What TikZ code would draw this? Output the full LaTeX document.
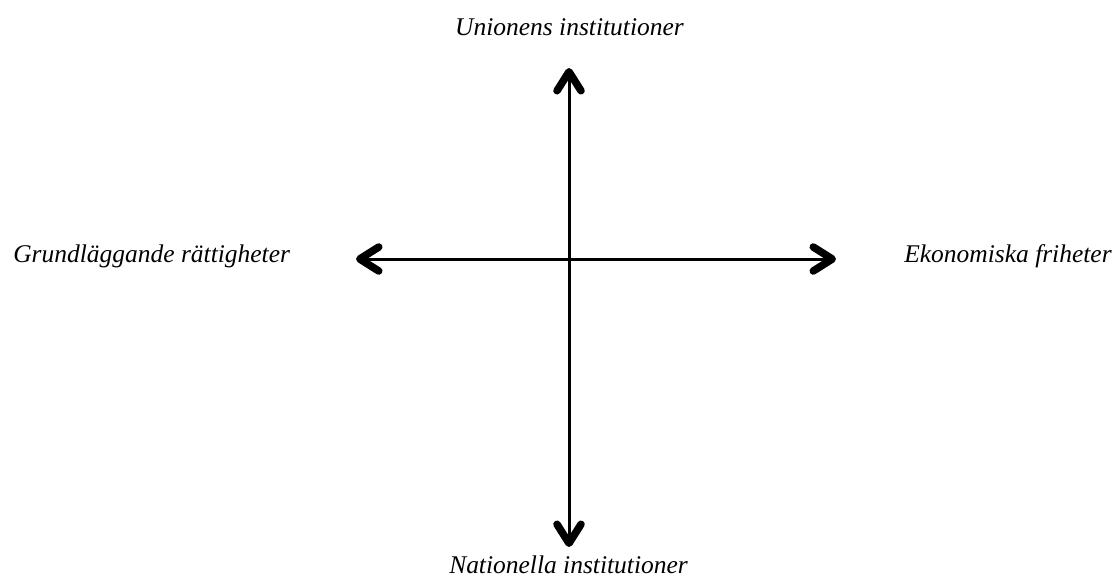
\documentclass[tikz,border=0pt]{standalone}
\usepackage{fontspec}
\setmainfont{Liberation Serif}
\usepackage{tikz}
\usetikzlibrary{arrows.meta}

\begin{document}
\begin{tikzpicture}[x=0.02cm, y=-0.02cm, >={Straight Barb[length=3.8mm, width=4.8mm, line width=1.5mm, round]},
        axis/.style={<->, line width=0.06cm, black},
        axisshadow/.style={<->, line width=0.06cm, black!25, opacity=0.6},
        label/.style={font=\fontsize{14.5}{17}\selectfont\itshape, inner sep=0pt}]

        \useasboundingbox (0,0) rectangle (1118,579);

        % ==========================================
        % ändpunkter för axlarna
        % ==========================================
        \coordinate (mitt) at (569,259);
        \coordinate (upp) at (569,68);
        \coordinate (ner) at (569,547);
        \coordinate (vanster) at (356,259);
        \coordinate (hoger) at (836,259);

        % svag skugga under pilarna
        \begin{scope}[shift={(1,3)}]
            \draw[axisshadow] (upp) -- (ner);
            \draw[axisshadow] (vanster) -- (hoger);
        \end{scope}

        % axlarna
        \draw[axis] (upp) -- (ner);
        \draw[axis] (vanster) -- (hoger);

        % ==========================================
        % texterna vid axlarnas ändar
        % ==========================================
        \node[label, anchor=base] (unionen) at (569.5,35) {Unionens institutioner};
        \node[label, anchor=base] (nation) at (568.5,573) {Nationella institutioner};
        \node[label, anchor=base west] (grund) at (13,262) {Grundläggande rättigheter};
        \node[label, anchor=base east] (ekonomi) at (1112,262) {Ekonomiska friheter};

\end{tikzpicture}
\end{document}
